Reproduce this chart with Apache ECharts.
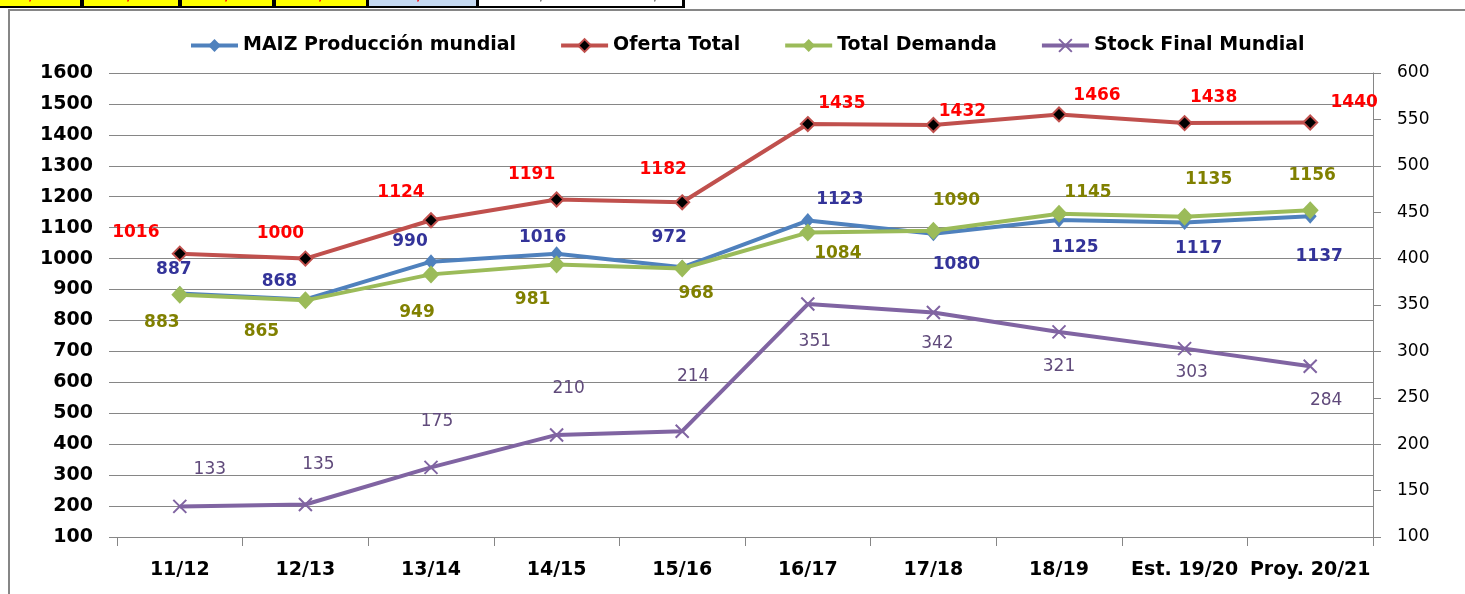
<!DOCTYPE html>
<html>
<head>
<meta charset="utf-8">
<title>MAIZ mundial</title>
<script src="https://cdn.jsdelivr.net/npm/echarts@6/dist/echarts.min.js"></script>
<style>
  html, body { margin: 0; padding: 0; background: #fff; }
  #main { width: 1465px; height: 594px; }
</style>
</head>
<body>
<div id="main"></div>
<script type="text/javascript">

    // campañas
    var campanias = ['11/12', '12/13', '13/14', '14/15', '15/16', '16/17', '17/18', '18/19', 'Est. 19/20', 'Proy. 20/21'];

    // valores (millones de t)
    var produccion = [887, 868, 990, 1016, 972, 1123, 1080, 1125, 1117, 1137];
    var oferta = [1016, 1000, 1124, 1191, 1182, 1435, 1432, 1466, 1438, 1440];
    var demanda = [883, 865, 949, 981, 968, 1084, 1090, 1145, 1135, 1156];
    var stock = [133, 135, 175, 210, 214, 351, 342, 321, 303, 284];

    // ticks de los ejes
    var ejeIzq = { min: 100, max: 1600, interval: 100 };
    var ejeDer = { min: 100, max: 600, interval: 50 };

    // donde van las etiquetas respecto del punto (como en el excel)
    var offProduccion = [[-6,-24], [-26,-18], [-21,-20], [-14,-16], [-13,-30], [32,-21], [23,31], [16,28], [14,26], [9,40]];
    var offOferta = [[-44,-21], [-25,-25], [-30,-28], [-25,-25], [-19,-33], [34,-20], [29,-13], [38,-19], [29,-26], [44,-20]];
    var offDemanda = [[-18,28], [-44,31], [-14,38], [-24,35], [14,25], [30,21], [23,-30], [29,-21], [24,-37], [2,-35]];
    var offStock = [[30,-37], [13,-40], [6,-46], [12,-46], [11,-55], [7,38], [4,31], [0,35], [7,24], [16,34]];

    var FONT = 'DejaVu Sans';
    var GRIS = '#868686';

    function conEtiquetas(valores, offsets) {
        var out = [];
        for (var i = 0; i < valores.length; i++) {
            out.push({ value: valores[i], label: { offset: offsets[i] } });
        }
        return out;
    }

    function etiqueta(color, bold, size) {
        return {
            show: true,
            position: 'inside',
            align: 'center',
            verticalAlign: 'middle',
            color: color,
            fontFamily: FONT,
            fontWeight: bold ? 'bold' : 'normal',
            fontSize: size
        };
    }

    function sinMiles(v) {
        return String(v);
    }

    // celdas de la planilla que asoman arriba
    var celdas = [
        { x: 0, w: 80, fill: '#FFFF00' },
        { x: 84, w: 94, fill: '#FFFF00' },
        { x: 182, w: 90, fill: '#FFFF00' },
        { x: 276, w: 90, fill: '#FFFF00' },
        { x: 369, w: 107, fill: '#C5D9F1' },
        { x: 479, w: 203, fill: '#FFFFFF' }
    ];
    var graficos = [
        { type: 'rect', shape: { x: 0, y: 0, width: 685, height: 8 }, style: { fill: '#000' }, silent: true }
    ];
    for (var c of celdas) {
        graficos.push({ type: 'rect', shape: { x: c.x, y: 0, width: c.w, height: 6 }, style: { fill: c.fill }, silent: true });
    }
    var marcasRojas = [29, 127, 225, 319, 417];
    for (var mx of marcasRojas) {
        graficos.push({ type: 'text', x: mx, y: -11, style: { text: '/', fill: '#FF0000', font: 'bold 14px DejaVu Sans' }, silent: true });
    }
    graficos.push({ type: 'text', x: 540, y: -11, style: { text: '/', fill: '#555', font: '14px DejaVu Sans' }, silent: true });
    graficos.push({ type: 'text', x: 654, y: -11, style: { text: '/', fill: '#555', font: '14px DejaVu Sans' }, silent: true });
    // marco del grafico
    graficos.push({
        type: 'polyline',
        shape: { points: [[9, 594], [9, 10], [1465, 10]] },
        style: { stroke: GRIS, lineWidth: 2, fill: null },
        silent: true
    });

    var chart = echarts.init(document.getElementById('main'), null, { renderer: 'canvas' });

    var option = {
        animation: false,
        backgroundColor: '#fff',
        textStyle: { fontFamily: FONT },
        graphic: graficos,
        legend: {
            left: 184,
            top: 31,
            itemWidth: 47,
            itemHeight: 16,
            itemGap: 43,
            lineStyle: { width: 4 },
            textStyle: { fontFamily: FONT, fontSize: 19, fontWeight: 'bold', color: '#000' },
            data: ['MAIZ Producción mundial', 'Oferta Total', 'Total Demanda', 'Stock Final Mundial']
        },
        grid: { left: 117, right: 92, top: 73, bottom: 57 },
        xAxis: {
            type: 'category',
            data: campanias,
            boundaryGap: true,
            axisLine: { show: true, lineStyle: { color: GRIS, width: 1 } },
            axisTick: { show: true, length: 9, lineStyle: { color: GRIS } },
            axisLabel: { interval: 0, margin: 24, color: '#000', fontFamily: FONT, fontWeight: 'bold', fontSize: 19 }
        },
        yAxis: [
            {
                type: 'value',
                position: 'left',
                min: ejeIzq.min,
                max: ejeIzq.max,
                interval: ejeIzq.interval,
                axisLine: { show: false },
                axisTick: { show: true, length: 8, lineStyle: { color: GRIS } },
                axisLabel: { margin: 24, color: '#000', fontFamily: FONT, fontWeight: 'bold', fontSize: 19, formatter: sinMiles },
                splitLine: { show: true, lineStyle: { color: GRIS, width: 1 } }
            },
            {
                type: 'value',
                position: 'right',
                min: ejeDer.min,
                max: ejeDer.max,
                interval: ejeDer.interval,
                axisLine: { show: true, lineStyle: { color: GRIS, width: 1 } },
                axisTick: { show: true, length: 8, lineStyle: { color: GRIS } },
                axisLabel: { margin: 24, color: '#000', fontFamily: FONT, fontSize: 17, formatter: sinMiles },
                splitLine: { show: false }
            }
        ],
        series: [
            {
                name: 'MAIZ Producción mundial',
                type: 'line',
                yAxisIndex: 0,
                data: conEtiquetas(produccion, offProduccion),
                symbol: 'diamond',
                symbolSize: [13, 15],
                lineStyle: { color: '#4F81BD', width: 4 },
                itemStyle: { color: '#4F81BD' },
                label: etiqueta('#333399', true, 17)
            },
            {
                name: 'Oferta Total',
                type: 'line',
                yAxisIndex: 0,
                data: conEtiquetas(oferta, offOferta),
                symbol: 'diamond',
                symbolSize: 14,
                lineStyle: { color: '#C0504D', width: 4 },
                itemStyle: { color: '#000', borderColor: '#C0504D', borderWidth: 2 },
                label: etiqueta('#FF0000', true, 17)
            },
            {
                name: 'Total Demanda',
                type: 'line',
                yAxisIndex: 0,
                data: conEtiquetas(demanda, offDemanda),
                symbol: 'diamond',
                symbolSize: [17, 18],
                lineStyle: { color: '#9BBB59', width: 4 },
                itemStyle: { color: '#9BBB59' },
                label: etiqueta('#808000', true, 17)
            },
            {
                name: 'Stock Final Mundial',
                type: 'line',
                yAxisIndex: 1,
                data: conEtiquetas(stock, offStock),
                symbol: 'path://M0,0L10,10M10,0L0,10',
                symbolSize: 13,
                lineStyle: { color: '#8064A2', width: 4 },
                itemStyle: { color: '#8064A2', borderColor: '#8064A2', borderWidth: 2 },
                label: etiqueta('#604A7B', false, 17)
            }
        ]
    };

    chart.setOption(option);

</script>
</body>
</html>
